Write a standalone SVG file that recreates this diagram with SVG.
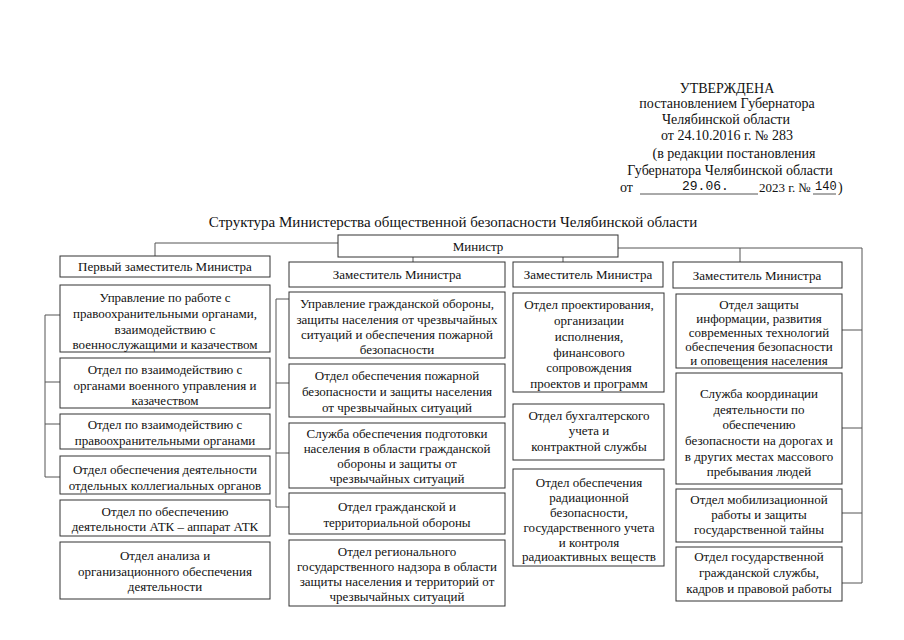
<svg xmlns="http://www.w3.org/2000/svg" width="904" height="640" viewBox="0 0 904 640" font-family="Liberation Serif, serif">
<style>
text{font-family:"Liberation Serif",serif;fill:#111;}
.h{font-size:14px;text-anchor:middle;}
.t{font-size:15px;text-anchor:middle;}
.b{font-size:13px;text-anchor:middle;}
.m{font-family:"Liberation Mono",monospace;font-size:13px;}
rect{fill:#fff;stroke:#333;stroke-width:1;}
.c{fill:none;stroke:#555;stroke-width:1;}
</style>
<rect x="0" y="0" width="904" height="640" style="stroke:none"/>
<g id="header">
<text class="h" x="727" y="93">УТВЕРЖДЕНА</text>
<text class="h" x="727" y="108">постановлением Губернатора</text>
<text class="h" x="726" y="124">Челябинской области</text>
<text class="h" x="727" y="140">от 24.10.2016 г. № 283</text>
<text class="h" x="734" y="158">(в редакции постановления</text>
<text class="h" x="730" y="175">Губернатора Челябинской области</text>
<text x="620" y="192" style="font-size:14px">от</text>
<line class="c" x1="640" y1="194" x2="758" y2="194"/>
<text class="m" x="682" y="190">29.06.</text>
<text x="759" y="192" style="font-size:13px">2023 г. №</text>
<line class="c" x1="813" y1="194" x2="836" y2="194"/>
<text class="m" x="815" y="190" style="font-size:12px">140</text>
<text x="838" y="192" style="font-size:14px">)</text>
</g>
<text class="t" x="453" y="227">Структура Министерства общественной безопасности Челябинской области</text>
<g id="connectors">
<polyline class="c" points="338,243 155,243 155,256"/>
<line class="c" x1="413" y1="257" x2="413" y2="262"/>
<line class="c" x1="563" y1="257" x2="563" y2="262"/>
<polyline class="c" points="618,248 862,248 862,583"/>
<line class="c" x1="740" y1="248" x2="740" y2="262"/>
<line class="c" x1="842" y1="330" x2="862" y2="330"/>
<line class="c" x1="842" y1="428" x2="862" y2="428"/>
<line class="c" x1="842" y1="513" x2="862" y2="513"/>
<line class="c" x1="842" y1="583" x2="862" y2="583"/>
<line class="c" x1="45" y1="315" x2="45" y2="477"/>
<line class="c" x1="45" y1="315" x2="60" y2="315"/>
<line class="c" x1="45" y1="382" x2="60" y2="382"/>
<line class="c" x1="45" y1="424" x2="60" y2="424"/>
<line class="c" x1="45" y1="477" x2="60" y2="477"/>
<line class="c" x1="276" y1="299" x2="276" y2="507"/>
<line class="c" x1="276" y1="299" x2="289" y2="299"/>
<line class="c" x1="276" y1="383" x2="289" y2="383"/>
<line class="c" x1="276" y1="453" x2="289" y2="453"/>
<line class="c" x1="276" y1="507" x2="289" y2="507"/>
</g>
<g id="minister"><rect x="338" y="235" width="280" height="22"/><text class="b" x="478" y="251">Министр</text></g>

<g id="dep1"><rect x="60" y="256" width="210" height="21"/><text class="b" x="165" y="271">Первый заместитель Министра</text></g>
<g id="n1a"><rect x="60" y="285" width="210" height="67"/>
<text class="b" x="165" y="302">Управление по работе с</text><text class="b" x="165" y="318">правоохранительными органами,</text><text class="b" x="165" y="334">взаимодействию с</text><text class="b" x="165" y="349">военнослужащими и казачеством</text></g>
<g id="n1b"><rect x="60" y="358" width="210" height="50"/>
<text class="b" x="165" y="374">Отдел по взаимодействию с</text><text class="b" x="165" y="390">органами военного управления и</text><text class="b" x="165" y="405">казачеством</text></g>
<g id="n1c"><rect x="60" y="414" width="210" height="35"/>
<text class="b" x="165" y="429">Отдел по взаимодействию с</text><text class="b" x="165" y="445">правоохранительными органами</text></g>
<g id="n1d"><rect x="60" y="456" width="210" height="38"/>
<text class="b" x="165" y="474">Отдел обеспечения деятельности</text><text class="b" x="165" y="490">отдельных коллегиальных органов</text></g>
<g id="n1e"><rect x="60" y="500" width="210" height="36"/>
<text class="b" x="165" y="516">Отдел по обеспечению</text><text class="b" x="165" y="531">деятельности АТК – аппарат АТК</text></g>
<g id="n1f"><rect x="60" y="542" width="210" height="57"/>
<text class="b" x="165" y="560">Отдел анализа и</text><text class="b" x="165" y="576">организационного обеспечения</text><text class="b" x="165" y="591">деятельности</text></g>

<g id="dep2"><rect x="289" y="262" width="216" height="25"/><text class="b" x="397" y="279">Заместитель Министра</text></g>
<g id="n2a"><rect x="289" y="292" width="216" height="66"/>
<text class="b" x="397" y="308">Управление гражданской обороны,</text><text class="b" x="397" y="324">защиты населения от чрезвычайных</text><text class="b" x="397" y="339">ситуаций и обеспечения пожарной</text><text class="b" x="397" y="354">безопасности</text></g>
<g id="n2b"><rect x="289" y="364" width="216" height="53"/>
<text class="b" x="397" y="380">Отдел обеспечения пожарной</text><text class="b" x="397" y="396">безопасности и защиты населения</text><text class="b" x="397" y="412">от чрезвычайных ситуаций</text></g>
<g id="n2c"><rect x="289" y="423" width="216" height="65"/>
<text class="b" x="397" y="438">Служба обеспечения подготовки</text><text class="b" x="397" y="453">населения в области гражданской</text><text class="b" x="397" y="468">обороны и защиты от</text><text class="b" x="397" y="483">чрезвычайных ситуаций</text></g>
<g id="n2d"><rect x="289" y="493" width="216" height="41"/>
<text class="b" x="397" y="511">Отдел гражданской и</text><text class="b" x="397" y="527">территориальной обороны</text></g>
<g id="n2e"><rect x="289" y="540" width="216" height="66"/>
<text class="b" x="397" y="556">Отдел регионального</text><text class="b" x="397" y="571">государственного надзора в области</text><text class="b" x="397" y="586">защиты населения и территорий от</text><text class="b" x="397" y="601">чрезвычайных ситуаций</text></g>

<g id="dep3"><rect x="513" y="262" width="150" height="25"/><text class="b" x="588" y="279">Заместитель Министра</text></g>
<g id="n3a"><rect x="513" y="293" width="151" height="99"/>
<text class="b" x="589" y="309">Отдел проектирования,</text><text class="b" x="589" y="325">организации</text><text class="b" x="589" y="341">исполнения,</text><text class="b" x="589" y="357">финансового</text><text class="b" x="589" y="372">сопровождения</text><text class="b" x="589" y="388">проектов и программ</text></g>
<g id="n3b"><rect x="513" y="404" width="151" height="56"/>
<text class="b" x="589" y="420">Отдел бухгалтерского</text><text class="b" x="589" y="435">учета и</text><text class="b" x="589" y="451">контрактной службы</text></g>
<g id="n3c"><rect x="513" y="469" width="151" height="97"/>
<text class="b" x="589" y="487">Отдел обеспечения</text><text class="b" x="589" y="502">радиационной</text><text class="b" x="589" y="517">безопасности,</text><text class="b" x="589" y="532">государственного учета</text><text class="b" x="589" y="547">и контроля</text><text class="b" x="589" y="561">радиоактивных веществ</text></g>

<g id="dep4"><rect x="673" y="262" width="169" height="26"/><text class="b" x="757" y="280">Заместитель Министра</text></g>
<g id="n4a"><rect x="676" y="294" width="166" height="74"/>
<text class="b" x="759" y="309">Отдел защиты</text><text class="b" x="759" y="323">информации, развития</text><text class="b" x="759" y="337">современных технологий</text><text class="b" x="759" y="351">обеспечения безопасности</text><text class="b" x="759" y="365">и оповещения населения</text></g>
<g id="n4b"><rect x="676" y="373" width="166" height="111"/>
<text class="b" x="759" y="398">Служба координации</text><text class="b" x="759" y="414">деятельности по</text><text class="b" x="759" y="429">обеспечению</text><text class="b" x="759" y="445">безопасности на дорогах и</text><text class="b" x="759" y="461">в других местах массового</text><text class="b" x="759" y="476">пребывания людей</text></g>
<g id="n4c"><rect x="676" y="489" width="166" height="53"/>
<text class="b" x="759" y="504">Отдел мобилизационной</text><text class="b" x="759" y="519">работы и защиты</text><text class="b" x="759" y="534">государственной тайны</text></g>
<g id="n4d"><rect x="676" y="547" width="166" height="54"/>
<text class="b" x="759" y="561">Отдел государственной</text><text class="b" x="759" y="577">гражданской службы,</text><text class="b" x="759" y="593">кадров и правовой работы</text></g>
</svg>
